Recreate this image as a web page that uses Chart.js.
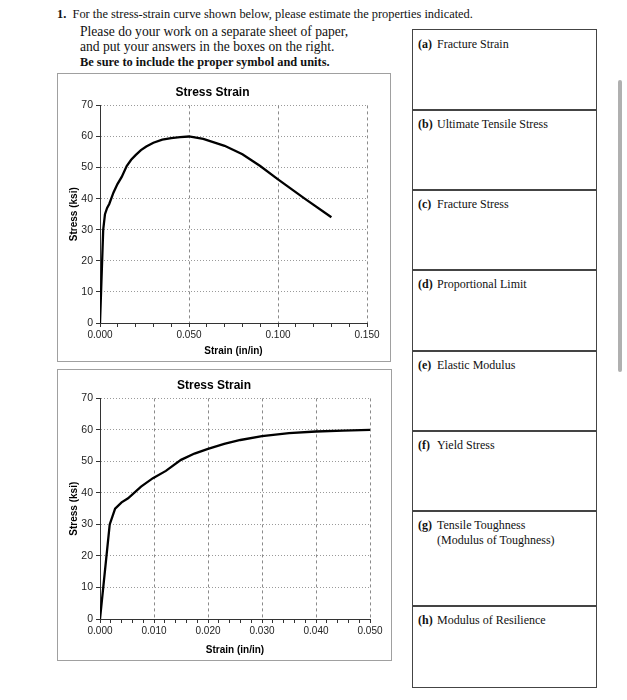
<!DOCTYPE html>
<html>
<head>
<meta charset="utf-8">
<script src="https://cdn.jsdelivr.net/npm/chart.js@4.4.1/dist/chart.umd.min.js"></script>
<style>
  body { margin: 0; background: #fff; width: 627px; height: 700px; position: relative; overflow: hidden; font-family: "Liberation Serif", "Times New Roman", serif; color: #111; }
  .txt { position: absolute; font-size: 12.4px; white-space: nowrap; }
  .chartbox { position: absolute; border: 1px solid #a0a0a0; box-sizing: border-box; }
  .chartbox canvas { position: absolute; left: 0; top: 0; }
  .ans { position: absolute; left: 412px; width: 185px; border: 1.5px solid #444; box-sizing: border-box; font-size: 12px; }
  .ans .lbl { position: absolute; left: 5px; top: 7px; white-space: nowrap; }
  .ans b { display: inline-block; width: 19px; }
  .scroll { position: absolute; left: 618px; top: 80px; width: 4px; height: 292px; background: #b0b0b0; border-radius: 2px; }
</style>
</head>
<body>
<div class="txt" style="left:57px; top:7px;"><b>1.</b>&nbsp;&nbsp;For the stress-strain curve shown below, please estimate the properties indicated.</div>
<div class="txt" style="left:80px; top:24px; font-size:13.6px;">Please do your work on a separate sheet of paper,</div>
<div class="txt" style="left:80px; top:39px; font-size:13.6px;">and put your answers in the boxes on the right.</div>
<div class="txt" style="left:80px; top:55px;"><b>Be sure to include the proper symbol and units.</b></div>

<div class="chartbox" style="left:57px; top:73px; width:334px; height:289px;">
  <canvas id="chartTop" width="332" height="287"></canvas>
</div>
<div class="chartbox" style="left:57px; top:369px; width:335px; height:292px;">
  <canvas id="chartBottom" width="333" height="290"></canvas>
</div>

<div id="answers"></div>
<div class="scroll"></div>

<script>
// stress-strain curve
const strain = [0, 0.0018, 0.0028, 0.004, 0.0052, 0.0076, 0.0098, 0.0122, 0.015, 0.0175, 0.02, 0.023, 0.026, 0.03, 0.035, 0.04, 0.045, 0.05, 0.058, 0.07, 0.08, 0.09, 0.1, 0.115, 0.13];
const stress = [0, 30, 35, 37, 38.3, 42, 44.7, 47, 50.5, 52.5, 54, 55.6, 56.8, 58, 59, 59.5, 59.8, 60, 59.2, 57, 54.3, 50.5, 46.2, 40, 34];

// axis settings for the two charts
const topStrainMax = 0.15, topMajor = 0.05, topMinor = 0.01;
const bottomStrainMax = 0.05, bottomMajor = 0.01, bottomMinor = 0.002;
const stressMax = 70, stressStep = 10;

// answer boxes on the right
const boxLabels = [
  ['(a)', 'Fracture Strain'],
  ['(b)', 'Ultimate Tensile Stress'],
  ['(c)', 'Fracture Stress'],
  ['(d)', 'Proportional Limit'],
  ['(e)', 'Elastic Modulus'],
  ['(f)', 'Yield Stress'],
  ['(g)', 'Tensile Toughness<br><span style="padding-left:19px">(Modulus of Toughness)</span>'],
  ['(h)', 'Modulus of Resilience']
];
const boxEdges = [29, 109, 189, 269, 350, 430, 510, 605, 686];

const answers = document.getElementById('answers');
boxLabels.forEach((l, i) => {
  const d = document.createElement('div');
  d.className = 'ans';
  d.style.top = boxEdges[i] + 'px';
  d.style.height = (boxEdges[i + 1] - boxEdges[i] + 1.5) + 'px';
  d.innerHTML = '<div class="lbl"><b>' + l[0] + '</b>' + l[1] + '</div>';
  answers.appendChild(d);
});

const points = strain.map((x, i) => ({ x: x, y: stress[i] }));
const axisFont = { family: 'Liberation Sans', size: 10 };

function isMajor(v, step) {
  return Math.abs(Math.round(v / step) * step - v) < 1e-9;
}

function makeChart(id, xMax, major, minor, xHeight, pad, titleTop) {
  return new Chart(document.getElementById(id), {
    type: 'scatter',
    data: {
      datasets: [{
        data: points,
        showLine: true,
        borderColor: '#000',
        borderWidth: 2.3,
        pointRadius: 0,
        tension: 0
      }]
    },
    options: {
      responsive: false,
      animation: false,
      layout: { padding: pad },
      plugins: {
        legend: { display: false },
        tooltip: { enabled: false },
        title: {
          display: true,
          text: 'Stress Strain',
          color: '#000',
          font: { family: 'Liberation Sans', size: 12, weight: 'bold' },
          padding: { top: titleTop, bottom: 6 }
        }
      },
      scales: {
        x: {
          type: 'linear',
          min: 0,
          max: xMax,
          afterFit: s => { s.height = xHeight; },
          ticks: {
            stepSize: minor,
            autoSkip: false,
            maxRotation: 0,
            color: '#222',
            font: axisFont,
            padding: 2,
            callback: v => isMajor(v, major) ? v.toFixed(3) : ''
          },
          grid: {
            color: c => isMajor(c.tick.value, major) ? '#8a8a8a' : 'transparent',
            lineWidth: 1,
            tickLength: 4,
            tickColor: '#333'
          },
          border: { color: '#333', width: 1, dash: [3, 3] },
          title: {
            display: true,
            text: 'Strain (in/in)',
            color: '#000',
            font: { family: 'Liberation Sans', size: 10, weight: 'bold' },
            padding: { top: 0, bottom: 4 }
          }
        },
        y: {
          min: 0,
          max: stressMax,
          afterFit: s => { s.width = 42; },
          ticks: { stepSize: stressStep, color: '#222', font: { family: 'Liberation Sans', size: 10.5 }, padding: 3 },
          grid: { color: '#9a9a9a', lineWidth: 1, tickLength: 4, tickColor: '#333' },
          border: { color: '#333', width: 1, dash: [1, 2] },
          title: {
            display: true,
            text: 'Stress (ksi)',
            color: '#000',
            font: { family: 'Liberation Sans', size: 10, weight: 'bold' },
            padding: { top: 10, bottom: 0 }
          }
        }
      }
    }
  });
}

makeChart('chartTop', topStrainMax, topMajor, topMinor, 38, { right: 23 }, 11);
makeChart('chartBottom', bottomStrainMax, bottomMajor, bottomMinor, 41, { right: 21 }, 8);
</script>
</body>
</html>
